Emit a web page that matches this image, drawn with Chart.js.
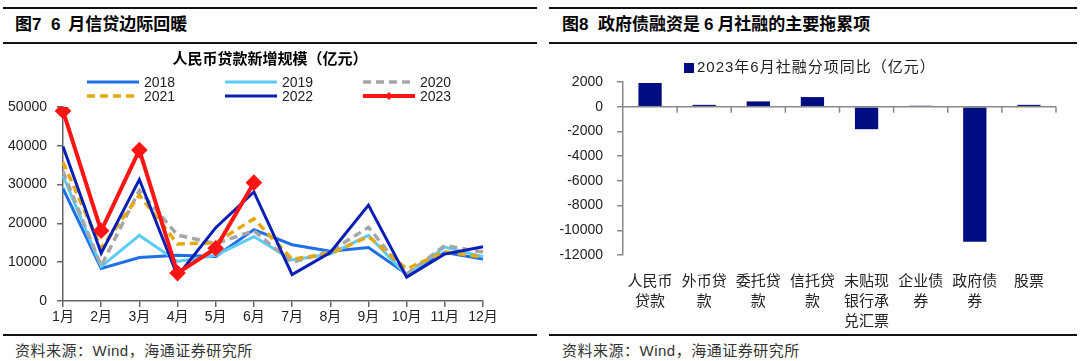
<!DOCTYPE html>
<html>
<head>
<meta charset="utf-8">
<script src="https://cdn.jsdelivr.net/npm/chart.js@4.4.0/dist/chart.umd.min.js"></script>
<style>
  body { margin: 0; width: 1080px; height: 361px; background: #fff; position: relative; overflow: hidden;
         font-family: "Liberation Sans", "Noto Sans CJK SC", sans-serif; }
  .rule { position: absolute; height: 2px; background: #111; }
  .ttl { position: absolute; top: 14px; font-weight: bold; font-size: 17px; color: #000; white-space: pre; line-height: 22px; }
  .ttl span { margin: 0 4px; }
  .src { position: absolute; top: 341px; font-size: 15px; letter-spacing: 0.5px; color: #333; line-height: 20px; white-space: pre; }
  canvas { position: absolute; }
</style>
</head>
<body>
<div class="rule" style="left:3px;width:534px;top:7px"></div>
<div class="rule" style="left:3px;width:534px;top:42px"></div>
<div class="rule" style="left:3px;width:534px;top:334px"></div>
<div class="ttl" style="left:15px">图7  6<span></span>月信贷边际回暖</div>
<div class="src" style="left:15px">资料来源：Wind，海通证券研究所</div>

<div class="rule" style="left:549px;width:528px;top:7px"></div>
<div class="rule" style="left:549px;width:528px;top:42px"></div>
<div class="rule" style="left:549px;width:528px;top:334px"></div>
<div class="ttl" style="left:562px">图8  政府债融资是<span>6</span>月社融的主要拖累项</div>
<div class="src" style="left:562px">资料来源：Wind，海通证券研究所</div>

<canvas id="loanChart" width="540" height="286" style="left:0;top:46px"></canvas>
<canvas id="sfChart" width="540" height="290" style="left:540px;top:46px"></canvas>

<script>
// 人民币贷款新增规模（亿元）
const months = ["1月", "2月", "3月", "4月", "5月", "6月", "7月", "8月", "9月", "10月", "11月", "12月"];
const loans2018 = [29000, 8400, 11200, 11800, 11500, 18400, 14500, 12800, 13800, 6970, 12500, 10800];
const loans2019 = [32300, 8860, 16900, 10200, 11800, 16600, 10600, 12100, 16900, 6610, 13900, 11400];
const loans2020 = [33400, 9060, 28500, 17000, 14800, 18100, 9930, 12800, 19000, 6900, 14300, 12600];
const loans2021 = [35800, 13600, 27300, 14700, 15000, 21200, 10800, 12200, 16600, 8260, 12700, 11300];
const loans2022 = [39800, 12300, 31300, 6450, 18900, 28100, 6790, 12500, 24700, 6150, 12100, 14000];
const loans2023 = [49000, 18100, 38900, 7190, 13600, 30500];
const loanTicks = [0, 10000, 20000, 30000, 40000, 50000];
const loanTitle = "人民币贷款新增规模（亿元）";

// 2023年6月社融分项同比（亿元）
const sfItems = [["人民币", "贷款"], ["外币贷", "款"], ["委托贷", "款"], ["信托贷", "款"],
                 ["未贴现", "银行承", "兑汇票"], ["企业债", "券"], ["政府债", "券"], ["股票"]];
const sfYoY = [1920, 150, 430, 780, -1820, 80, -10930, 150];
const sfLabel = "2023年6月社融分项同比（亿元）";

Chart.defaults.font.family = '"Liberation Sans", "Noto Sans CJK SC", sans-serif';
Chart.defaults.color = "#222";

const loanLegend = {
    id: "loanLegend",
    afterDraw(chart) {
        const ctx = chart.ctx;
        ctx.save();
        ctx.fillStyle = "#000";
        ctx.textAlign = "center";
        ctx.textBaseline = "middle";
        ctx.font = 'bold 15px "Noto Sans CJK SC"';
        ctx.fillText(loanTitle, 270, 12);
        ctx.font = '14px "Liberation Sans"';
        ctx.textAlign = "left";
        chart.data.datasets.forEach((ds, i) => {
            const x = [87, 225, 363][i % 3];
            const y = [36, 50][Math.floor(i / 3)];
            ctx.strokeStyle = ds.borderColor;
            ctx.lineWidth = ds.borderWidth;
            ctx.setLineDash(ds.borderDash || []);
            ctx.beginPath();
            ctx.moveTo(x, y);
            ctx.lineTo(x + 52, y);
            ctx.stroke();
            ctx.setLineDash([]);
            if (ds.pointRadius) {
                const r = 4;
                ctx.fillStyle = ds.borderColor;
                ctx.beginPath();
                ctx.moveTo(x + 26, y - r);
                ctx.lineTo(x + 26 + r, y);
                ctx.lineTo(x + 26, y + r);
                ctx.lineTo(x + 26 - r, y);
                ctx.closePath();
                ctx.fill();
            }
            ctx.fillStyle = "#222";
            ctx.fillText(ds.label, x + 57, y + 1);
        });
        ctx.restore();
    }
};

function lineSet(label, data, color, width, order, dash) {
    return {
        label: label,
        data: data,
        borderColor: color,
        backgroundColor: color,
        borderWidth: width,
        borderDash: dash || [],
        pointRadius: 0,
        tension: 0,
        order: order,
    };
}

const red = lineSet("2023", loans2023, "#ff1414", 4, 0);
red.pointRadius = 5.5;
red.pointStyle = "rectRot";

new Chart(document.getElementById("loanChart").getContext("2d"), {
    type: "line",
    data: {
        labels: months,
        datasets: [
            lineSet("2018", loans2018, "#1f6fe8", 3, 5),
            lineSet("2019", loans2019, "#5ccbf5", 3, 4),
            lineSet("2020", loans2020, "#a6a6a6", 3.5, 3, [8, 5]),
            lineSet("2021", loans2021, "#e2a912", 3.5, 2, [8, 5]),
            lineSet("2022", loans2022, "#0b1fb5", 3, 1),
            red,
        ],
    },
    options: {
        responsive: false,
        animation: false,
        layout: { padding: { top: 61, right: 57, left: 0, bottom: 0 } },
        plugins: { legend: { display: false }, tooltip: { enabled: false } },
        scales: {
            x: {
                grid: { drawOnChartArea: false, tickLength: 6, color: "#666", lineWidth: 1.5 },
                border: { color: "#666", width: 1.5 },
                ticks: { font: { size: 14 }, padding: 2, maxRotation: 0, autoSkip: false },
                afterFit(s) { s.height = 31; },
            },
            y: {
                min: 0,
                max: 50000,
                afterBuildTicks(s) { s.ticks = loanTicks.map(v => ({ value: v })); },
                grid: { drawOnChartArea: false, tickLength: 6, color: "#666", lineWidth: 1.5 },
                border: { color: "#666", width: 1.5 },
                ticks: { font: { size: 14 }, padding: 10, callback: v => String(v) },
                afterFit(s) { s.width = 63; },
            },
        },
    },
    plugins: [loanLegend],
});

const zeroAxis = {
    id: "zeroAxis",
    afterDatasetsDraw(chart) {
        const ctx = chart.ctx;
        const area = chart.chartArea;
        const y0 = chart.scales.y.getPixelForValue(0);
        const step = (area.right - area.left) / sfItems.length;
        ctx.save();
        ctx.strokeStyle = "#888";
        ctx.lineWidth = 1.5;
        ctx.beginPath();
        ctx.moveTo(area.left, y0);
        ctx.lineTo(area.right, y0);
        for (let i = 1; i <= sfItems.length; i++) {
            const x = area.left + step * i;
            ctx.moveTo(x, y0);
            ctx.lineTo(x, y0 + 6);
        }
        ctx.stroke();
        ctx.restore();
    },
    afterDraw(chart) {
        const ctx = chart.ctx;
        ctx.save();
        ctx.fillStyle = chart.data.datasets[0].backgroundColor;
        ctx.fillRect(144, 17, 10, 10);
        ctx.fillStyle = "#222";
        ctx.font = '15px "Liberation Sans", "Noto Sans CJK SC"';
        ctx.letterSpacing = "1px";
        ctx.textAlign = "left";
        ctx.textBaseline = "middle";
        ctx.fillText(chart.data.datasets[0].label, 157, 22);
        ctx.restore();
    }
};

new Chart(document.getElementById("sfChart").getContext("2d"), {
    type: "bar",
    data: {
        labels: sfItems,
        datasets: [{
            label: sfLabel,
            data: sfYoY,
            backgroundColor: "#000d80",
            categoryPercentage: 1,
            barPercentage: 0.43,
        }],
    },
    options: {
        responsive: false,
        animation: false,
        layout: { padding: { top: 36, right: 24, left: 0, bottom: 0 } },
        plugins: { legend: { display: false }, tooltip: { enabled: false } },
        scales: {
            x: {
                grid: { display: false },
                border: { display: false },
                ticks: {
                    font: { family: '"Noto Sans CJK SC"', size: 15, lineHeight: 20 / 15 },
                    padding: 7,
                    maxRotation: 0,
                    autoSkip: false,
                },
                afterFit(s) { s.height = 81; },
            },
            y: {
                min: -12000,
                max: 2000,
                grid: { drawOnChartArea: false, tickLength: 6, color: "#888", lineWidth: 1.5 },
                border: { color: "#888", width: 1.5 },
                ticks: { stepSize: 2000, font: { size: 14 }, padding: 14, callback: v => String(v) },
                afterFit(s) { s.width = 83; },
            },
        },
    },
    plugins: [zeroAxis],
});
</script>
</body>
</html>
